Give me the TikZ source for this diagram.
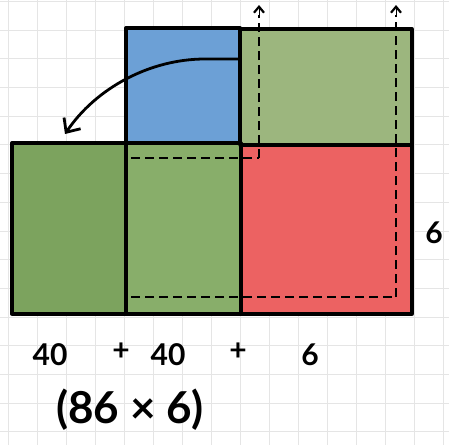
\documentclass[tikz,border=0pt]{standalone}
\usepackage{fontspec}
\setmainfont{Lato}
\usetikzlibrary{arrows.meta}
\definecolor{blueF}{RGB}{108,160,214}
\definecolor{greenTR}{RGB}{156,182,126}
\definecolor{greenL}{RGB}{124,163,94}
\definecolor{greenM}{RGB}{136,174,106}
\definecolor{redF}{RGB}{236,98,98}
\begin{document}
\begin{tikzpicture}[x=1pt,y=-1pt,
  outline/.style={line width=3.3pt, line join=round, line cap=round},
  dashline/.style={line width=2.6pt, dash pattern=on 9pt off 5pt},
  lbl/.style={font=\bfseries\fontsize{30}{30}\selectfont, inner sep=0pt},
  pluslbl/.style={font=\bfseries\fontsize{30}{30}\selectfont, inner sep=0pt},
  biglbl/.style={font=\bfseries\fontsize{44}{44}\selectfont, inner sep=0pt},
  gridline/.style={black!10, line width=0.7pt},
  barb/.style={-{Straight Barb[length=6pt,width=10pt,line width=2.2pt]}}]
\useasboundingbox (0,0) rectangle (449,445);
\fill[white] (0,0) rectangle (449,445);
% graph paper
\foreach \i in {0,...,15} \draw[gridline] (8+29*\i,0) -- (8+29*\i,445);
\foreach \j in {0,...,15} \draw[gridline] (0,1.3+28.7*\j) -- (449,1.3+28.7*\j);
% fills
\fill[blueF] (126,28) rectangle (240,143);
\fill[greenTR] (240,29) rectangle (412,145);
\fill[greenL] (12,143) rectangle (126,313);
\fill[greenM] (126,143) rectangle (241,313);
\fill[redF] (241,145) rectangle (412,314);
% outlines
\draw[outline] (126,143) rectangle (240,28);
\draw[outline] (240,29) -- (412,29) -- (412,314) -- (12,314) -- (12,143) -- (126,143);
\draw[outline] (240,145) -- (412,145);
\draw[outline] (126,143) -- (126,314);
\draw[outline] (241,143) -- (241,314);
% dashed paths
\coordinate (d1s) at (131,158);
\coordinate (d1c) at (259,158);
\coordinate (d1e) at (259,5);
\coordinate (d2s) at (131,297);
\coordinate (d2c) at (396,297);
\coordinate (d2e) at (396,5);
\draw[dashline] (d1s) -- (d1c);
\draw[dashline] (d1c) -- (259,15);
\draw[barb] (259,17) -- (d1e);
\draw[dashline] (d2s) -- (d2c);
\draw[dashline] (d2c) -- (396,15);
\draw[barb] (396,17) -- (d2e);
% curved arrow
\coordinate (ca) at (238,59);
\coordinate (cb) at (205,59);
\coordinate (cc) at (65,134);
\draw[line width=2.8pt, -{Straight Barb[length=11pt,width=20pt,line width=2.8pt]}]
  (ca) -- (cb) .. controls (150,59) and (96,88) .. (cc);
% labels
\node[lbl] (n40a) at (50,355) {40};
\node[pluslbl] (p1) at (121,352) {+};
\node[lbl] (n40b) at (168,355) {40};
\node[pluslbl] (p2) at (238,352) {+};
\node[lbl] (n6) at (310,355) {6};
\node[lbl] (side6) at (434,233) {6};
\node[biglbl] (prod) at (130,410) {(86 × 6)};
\end{tikzpicture}
\end{document}
